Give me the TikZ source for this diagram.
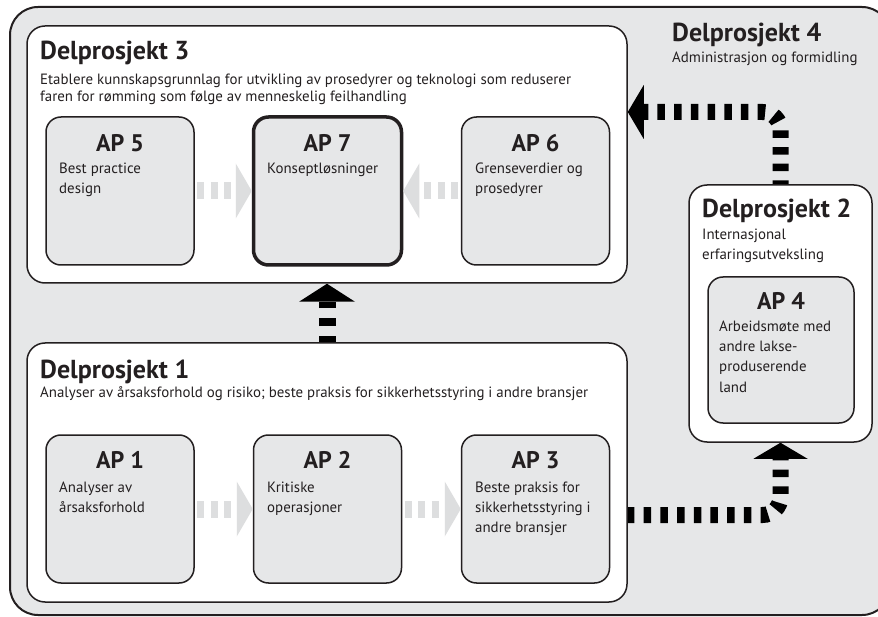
\documentclass[tikz,border=0pt]{standalone}
\usepackage{fontspec}
\setmainfont{PT Sans}
\usetikzlibrary{arrows.meta}
\definecolor{bggray}{HTML}{E6E7E8}
\definecolor{ink}{HTML}{231F20}
\definecolor{arrgray}{HTML}{DDDEDF}
\pgfdeclarelayer{back}
\pgfdeclarelayer{mid}
\pgfsetlayers{back,mid,main}
\tikzset{
  outerbox/.style={draw=ink, line width=2pt, fill=bggray, rounded corners=28pt, inner sep=0pt},
  dpbox/.style={draw=ink, line width=1.5pt, fill=white, rounded corners=18pt, inner sep=0pt},
  apbox/.style={draw=ink, line width=1.5pt, fill=bggray, rounded corners=15pt, inner sep=0pt, minimum width=148pt, minimum height=148pt},
  heading/.style={inner sep=0pt, anchor=base west, font=\fontsize{26}{26}\selectfont\bfseries, text=ink},
  aplabel/.style={inner sep=0pt, anchor=base, font=\fontsize{24}{24}\selectfont\bfseries, text=ink},
  body/.style={inner sep=0pt, anchor=base west, font=\fontsize{14.9}{14.9}\selectfont, text=ink},
  bigarrow/.style={draw=black, line width=16pt, dash pattern=on 7.5pt off 9.2pt, rounded corners=18pt,
    -{Triangle[length=16pt,width=54pt,line width=0pt]}},
  grayarrow/.style={draw=arrgray, line width=17pt, dash pattern=on 7pt off 6.5pt, dash phase=11pt,
    -{Triangle[length=16pt,width=55pt,line width=0pt]}},
}
\begin{document}
\begin{tikzpicture}[x=1pt, y=-1pt]
\useasboundingbox (0,0) rectangle (878,617);
\clip (0,0) rectangle (878,617);
\begin{pgfonlayer}{back}
  \node[outerbox, minimum width=880pt, minimum height=608pt] (outer) at (450,311) {};
\end{pgfonlayer}

% Delprosjekt boxes
\node[dpbox, minimum width=600pt, minimum height=257pt] (dp3) at (327,154.5) {};
\node[dpbox, minimum width=600pt, minimum height=259pt] (dp1) at (327,472.5) {};
\node[dpbox, minimum width=183pt, minimum height=257pt] (dp2) at (780.5,313.5) {};

% AP boxes
\node[apbox] (ap5) at (120,191) {};
\node[apbox, line width=3.5pt] (ap7) at (327.5,191) {};
\node[apbox] (ap6) at (535.5,191) {};
\node[apbox] (ap1) at (120,509) {};
\node[apbox] (ap2) at (327.5,509) {};
\node[apbox] (ap3) at (535.5,509) {};
\node[apbox, minimum width=146pt, minimum height=146pt] (ap4) at (781,350) {};

% black connectors (behind boxes)
\begin{pgfonlayer}{mid}
  \draw[bigarrow, line width=17pt, dash pattern=on 8pt off 10pt, dash phase=2pt,
    -{Triangle[length=18pt,width=56pt,line width=0pt]}] (dp1.north) -- (dp3.south);
  \draw[bigarrow, dash phase=0pt] ([yshift=-6pt]ap3.east) -| (dp2.south);
  \draw[bigarrow, dash phase=3.7pt] (dp2.north) |- ([yshift=42.5pt]dp3.east);
\end{pgfonlayer}

% gray connectors
\draw[grayarrow] (ap5.east) -- (ap7.west);
\draw[grayarrow] (ap6.west) -- (ap7.east);
\draw[grayarrow] (ap1.east) -- (ap2.west);
\draw[grayarrow] (ap2.east) -- (ap3.west);

% Delprosjekt 3 texts
\node[heading] (t3h) at (40,60) {Delprosjekt 3};
\node[body] (t3a) at (40,85) {Etablere kunnskapsgrunnlag for utvikling av prosedyrer og teknologi som reduserer};
\node[body] (t3b) at (40,102) {faren for rømming som følge av menneskelig feilhandling};
\node[aplabel] (l5) at (120,152) {AP 5};
\node[body] (l5a) at (59,174) {Best practice};
\node[body] (l5b) at (59,194) {design};
\node[aplabel] (l7) at (327.5,152) {AP 7};
\node[body] (l7a) at (267,174) {Konseptløsninger};
\node[aplabel] (l6) at (535.5,152) {AP 6};
\node[body] (l6a) at (475,174) {Grenseverdier og};
\node[body] (l6b) at (475,194) {prosedyrer};

% Delprosjekt 4
\node[heading] (t4h) at (672,42) {Delprosjekt 4};
\node[body] (t4a) at (672,63) {Administrasjon og formidling};

% Delprosjekt 2
\node[heading] (t2h) at (702,218) {Delprosjekt 2};
\node[body] (t2a) at (702,240) {Internasjonal};
\node[body] (t2b) at (702,260) {erfaringsutveksling};
\node[aplabel] (l4) at (781,310) {AP 4};
\node[body] (l4a) at (719,332) {Arbeidsmøte med};
\node[body] (l4b) at (719,352) {andre lakse-};
\node[body] (l4c) at (719,372) {produserende};
\node[body] (l4d) at (719,392) {land};

% Delprosjekt 1
\node[heading] (t1h) at (40,378) {Delprosjekt 1};
\node[body] (t1a) at (40,398) {Analyser av årsaksforhold og risiko; beste praksis for sikkerhetsstyring i andre bransjer};
\node[aplabel] (l1) at (120,468) {AP 1};
\node[body] (l1a) at (59,492) {Analyser av};
\node[body] (l1b) at (59,512) {årsaksforhold};
\node[aplabel] (l2) at (327.5,468) {AP 2};
\node[body] (l2a) at (267,492) {Kritiske};
\node[body] (l2b) at (267,512) {operasjoner};
\node[aplabel] (l3) at (535.5,468) {AP 3};
\node[body] (l3a) at (475,492) {Beste praksis for};
\node[body] (l3b) at (475,512) {sikkerhetsstyring i};
\node[body] (l3c) at (475,532) {andre bransjer};
\end{tikzpicture}
\end{document}
